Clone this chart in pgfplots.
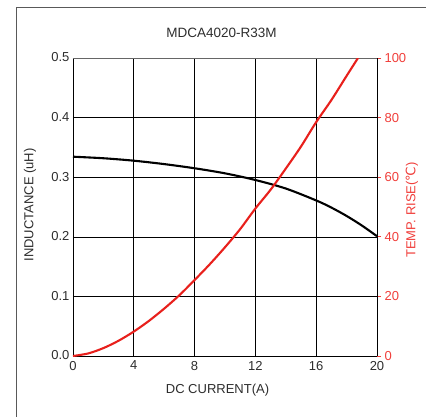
\documentclass[border=0pt]{standalone}
\usepackage{fontspec}
\setmainfont{Liberation Sans}
\newfontfamily\dejavu{DejaVu Sans}
\usepackage{pgfplots}
\pgfplotsset{compat=1.18}
\definecolor{txt}{RGB}{45,45,45}
\definecolor{cred}{RGB}{232,32,28}
\definecolor{lred}{RGB}{240,62,58}
\begin{document}
\begin{tikzpicture}
\useasboundingbox (-73pt,-60pt) rectangle (353pt,356pt);
\draw[black!65, line width=0.9pt] (-57pt,-62pt) -- (-57pt,349pt) -- (356pt,349pt);
\begin{axis}[
  at={(0,0)}, anchor=south west,
  scale only axis, width=304pt, height=298pt,
  xmin=0, xmax=20, ymin=0, ymax=0.5,
  xtick={0,4,8,12,16,20},
  ytick={0,0.1,0.2,0.3,0.4,0.5},
  grid=major,
  grid style={black, line width=0.6pt},
  major tick length=0pt,
  axis line style={black, line width=0.6pt},
  /pgf/number format/assume math mode=true,
  tick label style={font=\fontsize{13}{15}\selectfont, text=txt},
  yticklabel style={/pgf/number format/fixed, /pgf/number format/fixed zerofill, /pgf/number format/precision=1, xshift=0pt, yshift=0.5pt},
  xticklabel style={yshift=-1.5pt},
  clip=true,
]
\addplot[black, line width=2.1pt, smooth] coordinates {
 (0,0.3344) (2,0.3318) (4,0.3277) (6,0.3220) (8,0.3150) (10,0.3065)
 (12,0.2953) (14,0.2810) (16,0.2610) (17,0.2490) (18,0.2350) (19,0.2190) (20,0.2010)
};
\draw[black!60, line width=0.8pt] (rel axis cs:0,1) -- (rel axis cs:1,1);
\end{axis}
\begin{axis}[
  at={(0,0)}, anchor=south west,
  scale only axis, width=304pt, height=298pt,
  xmin=0, xmax=20, ymin=0, ymax=100,
  axis y line*=right, axis x line=none,
  ytick={0,20,40,60,80,100},
  /pgf/number format/assume math mode=true,
  tick label style={font=\fontsize{13}{15}\selectfont, text=lred},
  y tick style={lred, line width=0.9pt},
  major tick length=4pt, tick align=outside,
  axis line style={black, line width=0.6pt},
  clip=true,
]
\addplot[cred, line width=2.1pt, smooth] coordinates {
 (0,0) (1,0.86) (2,2.65) (3,5.13) (4,8.2) (5,11.8) (6,15.9) (7,20.4)
 (8,25.5) (9,30.8) (10,36.5) (11,42.6) (12,49.5) (13,55.8) (14,62.9)
 (15,70.3) (16,78.5) (17,85.9) (18,94.0) (18.75,100)
};
\end{axis}
\node[font=\fontsize{13.5}{15}\selectfont, text=txt] at (148.5pt,323pt) {MDCA4020-R33M};
\node[font=\fontsize{13}{15}\selectfont, text=txt] at (144.5pt,-34pt) {DC CURRENT(A)};
\node[font=\fontsize{13}{15}\selectfont, text=txt, rotate=90] at (-43pt,151pt) {INDUCTANCE (uH)};
\node[font=\fontsize{13}{15}\selectfont, text=lred, rotate=90] at (339pt,146pt) {TEMP. RISE({\dejavu ℃})};
\end{tikzpicture}
\end{document}
